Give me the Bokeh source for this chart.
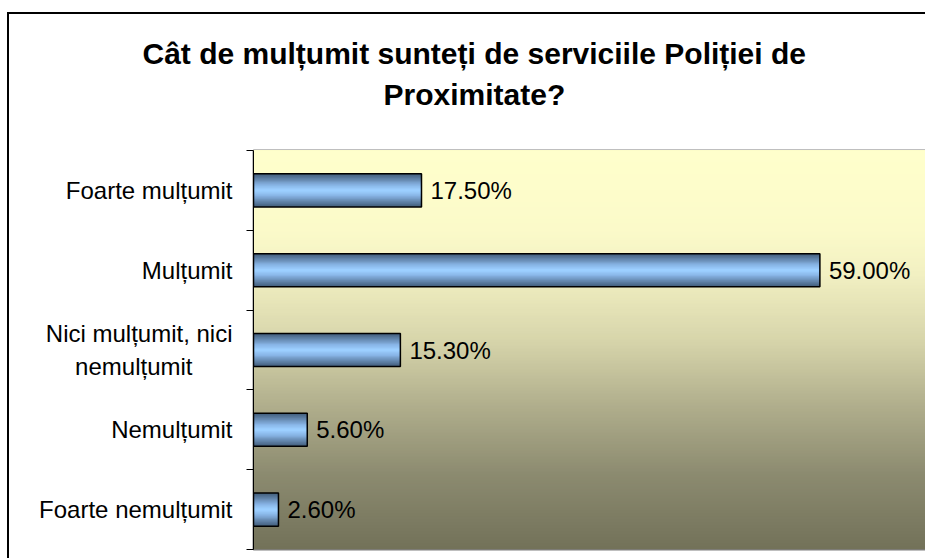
from bokeh.plotting import figure
from bokeh.models import FixedTicker, Range1d, Title
from bokeh.embed import file_html
from bokeh.resources import INLINE
from bokeh.core.properties import value
import numpy as np

# ---- data ----
categories = ["Foarte mulțumit", "Mulțumit",
              "Nici mulțumit, nici\nnemulțumit" + "\u00a0" * 6,
              "Nemulțumit", "Foarte nemulțumit"]
values = [17.5, 59.0, 15.3, 5.6, 2.6]
value_labels = ["17.50%", "59.00%", "15.30%", "5.60%", "2.60%"]
title_line1 = "Cât de mulțumit sunteți de serviciile Poliției de"
title_line2 = "Proximitate?"
x_max = 70

# ---- styling helpers ----
def hex2rgb(h):
    h = h.lstrip("#")
    return np.array([int(h[i:i + 2], 16) for i in (0, 2, 4)], dtype=float)

def rgb2hex(c):
    return "#%02x%02x%02x" % tuple(int(round(v)) for v in c)

def interp_color(t, stops, colors):
    arr = np.array([hex2rgb(c) for c in colors])
    return rgb2hex([np.interp(t, stops, arr[:, k]) for k in range(3)])

bg_stops = [0.0, 0.2, 0.31, 0.48, 0.64, 0.81, 1.0]
bg_colors = ["#ffffcc", "#fbfac9", "#f2f0c2", "#d6d4aa", "#b0ae8c", "#8c8b70", "#727259"]

bar_stops = [0.0, 0.35, 0.7, 1.0]
bar_colors = ["#44607e", "#6689b0", "#88b5e6", "#9ccfff"]

n = len(categories)
ypos = [n - 0.5 - i for i in range(n)]

FONT = "Liberation Sans"

p = figure(width=918, height=546,
           x_range=Range1d(0, x_max), y_range=Range1d(0, n),
           output_backend="svg", toolbar_location=None,
           min_border_left=244, min_border_right=2,
           min_border_top=136, min_border_bottom=11)
p.styles = {"border-top": "2px solid black", "border-left": "2px solid black",
            "margin": "12px 0px 0px 7px"}

p.border_fill_color = "white"
p.background_fill_color = "white"
p.outline_line_color = "#808080"
p.outline_line_width = 2
p.xgrid.visible = False
p.ygrid.visible = False
p.xaxis.visible = False

# background gradient (overlapping stripes, each drawn up to the top)
nstripes = 133
edges = np.linspace(0, n, nstripes + 1)
stripe_colors = [interp_color(1 - (edges[i] + edges[i + 1]) / 2 / n, bg_stops, bg_colors)
                 for i in range(nstripes)]
p.quad(left=0, right=x_max, bottom=edges[:-1], top=n,
       fill_color=stripe_colors, line_color=None)

# bars with vertical gradient
bar_h = 0.415
nl = 14
for k in range(nl):
    t = k / (nl - 1)
    p.hbar(y=ypos, left=0, right=values, height=bar_h * (nl - k) / nl,
           fill_color=interp_color(t, bar_stops, bar_colors), line_color=None)
p.hbar(y=ypos, left=0, right=values, height=bar_h, fill_color=None,
       line_color="black", line_width=1.5)

# value labels
p.text(x=values, y=ypos, text=value_labels, x_offset=9,
       text_baseline="middle", text_align="left",
       text_font=value(FONT), text_font_size="24px", text_color="black")

# y axis
yax = p.yaxis[0]
yax.ticker = FixedTicker(ticks=ypos, minor_ticks=list(range(n + 1)))
yax.major_label_overrides = {y: c for y, c in zip(ypos, categories)}
yax.major_tick_line_color = None
yax.major_tick_out = 7
yax.major_tick_in = 0
yax.minor_tick_out = 7
yax.minor_tick_in = 0
yax.minor_tick_line_color = "black"
yax.axis_line_color = "black"
yax.major_label_standoff = 14
yax.major_label_text_font = FONT
yax.major_label_text_font_size = "24px"
yax.major_label_text_color = "black"

# title: two lines
p.add_layout(Title(text=title_line2, align="left", offset=130, standoff=80,
                   text_font=FONT, text_font_style="bold",
                   text_font_size="30px", text_color="black"), "above")
p.add_layout(Title(text=title_line1, align="left", offset=-111, standoff=-68,
                   text_font=FONT, text_font_style="bold",
                   text_font_size="30px", text_color="black"), "above")

open("out.html", "w").write(file_html(p, INLINE))
